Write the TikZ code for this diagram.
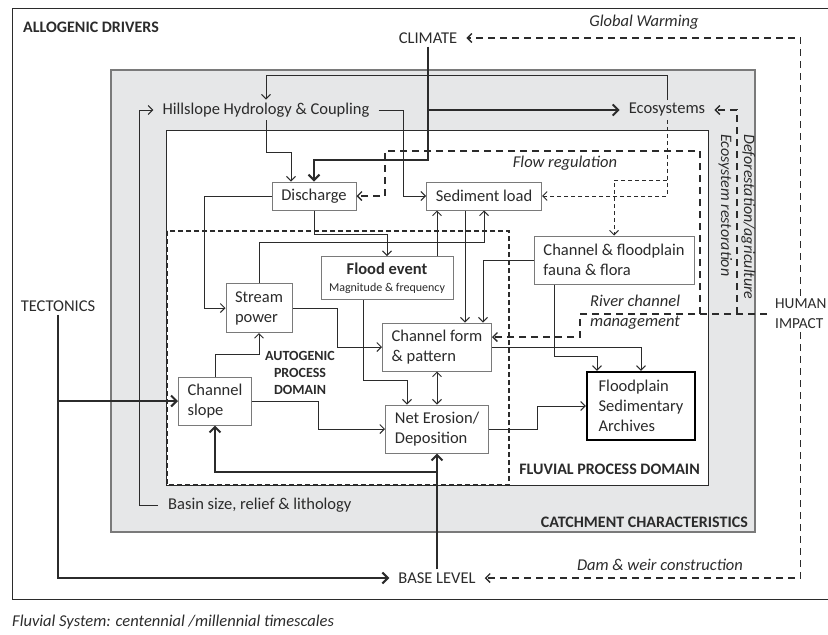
\documentclass[tikz,border=0pt]{standalone}
\usepackage{fontspec}
\setmainfont{Carlito}
\usepackage{tikz}
\usetikzlibrary{arrows.meta}
\usetikzlibrary{positioning}
\usetikzlibrary{calc}

\definecolor{inkgray}{HTML}{2B2B2B}
\definecolor{boxgray}{HTML}{7A7A7A}
\definecolor{panelgray}{HTML}{E6E7E8}

\begin{document}
\begin{tikzpicture}[x=1pt,y=-1pt,>={Straight Barb[length=4.5pt,width=9pt]},
  every node/.style={text=inkgray,font=\fontsize{16.5}{20}\selectfont},
  box node/.style={draw=boxgray,line width=1pt,fill=white,align=left,inner sep=0pt},
  plain node/.style={inner xsep=9pt,inner ysep=3pt},
  title node/.style={inner sep=0pt,font=\fontsize{16}{19}\selectfont\bfseries},
  note node/.style={font=\fontsize{16.5}{20}\selectfont\itshape},
  flow line/.style={draw=inkgray,line width=1pt},
  driver line/.style={draw=inkgray,line width=2pt,>={Straight Barb[length=5.5pt,width=11pt]}},
  human line/.style={draw=inkgray,line width=1.4pt,dash pattern=on 7pt off 5pt,>={Straight Barb[length=4.5pt,width=9pt]}},
  eco line/.style={draw=inkgray,line width=0.9pt,dash pattern=on 4pt off 3pt}]

  \useasboundingbox (0,0) rectangle (828,635);

  % domains
  \draw[inkgray,line width=1pt] (12,8) rectangle (845,599);
  \draw[boxgray,fill=panelgray,line width=1.2pt] (111,70) rectangle (755,532);
  \draw[inkgray,fill=white,line width=1pt] (166,130) rectangle (708,485);
  \draw[inkgray,line width=1.2pt,dash pattern=on 5pt off 3pt] (167,231) rectangle (509,485);

  \node[title node,anchor=west] (allo) at (23,27) {ALLOGENIC DRIVERS};
  \node[title node,anchor=east] (catch) at (748,522) {CATCHMENT CHARACTERISTICS};
  \node[title node,anchor=east] (fluv) at (700,469) {FLUVIAL PROCESS DOMAIN};
  \node[title node,align=center,font=\fontsize{14}{17}\selectfont\bfseries] (auto) at (300,373) {AUTOGENIC\\PROCESS\\DOMAIN};

  % drivers
  \node[plain node] (cli) at (428,38) {CLIMATE};
  \node[plain node] (tect) at (58,306) {TECTONICS};
  \node[plain node] (base) at (437,578) {BASE LEVEL};
  \node[plain node,anchor=west,align=left,inner xsep=8pt,font=\fontsize{15.3}{20}\selectfont] (hum) at (767,314) {HUMAN\\IMPACT};

  % catchment
  \node[plain node] (hill) at (266,110) {Hillslope Hydrology \& Coupling};
  \node[plain node] (eco) at (667,110) {Ecosystems};
  \node[plain node,anchor=west,inner xsep=10pt] (basin) at (158,505) {Basin size, relief \& lithology};

  % fluvial processes
  \node[box node,minimum width=84pt,minimum height=28pt] (dis) at (314,196) {Discharge};
  \node[box node,minimum width=115pt,minimum height=28pt] (sed) at (484,196) {Sediment load};
  \node[box node,minimum width=132pt,minimum height=43pt,align=center] (flood) at (387,278)
    {\textbf{Flood event}\\[-3pt]{\fontsize{12}{14}\selectfont Magnitude \& frequency}};
  \node[box node,minimum width=66pt,minimum height=49pt] (sp) at (259,308) {Stream\\power};
  \node[box node,minimum width=73pt,minimum height=48pt] (cs) at (215,401) {Channel\\slope};
  \node[box node,minimum width=109pt,minimum height=48pt] (cf) at (437,347) {Channel form\\\& pattern};
  \node[box node,minimum width=103pt,minimum height=48pt] (ne) at (437,429) {Net Erosion/\\Deposition};
  \node[box node,minimum width=160pt,minimum height=48pt] (cff) at (614,260) {Channel \& floodplain\\fauna \& flora};
  \node[box node,draw=black,line width=2.2pt,minimum width=108pt,minimum height=68pt] (fsa) at (641,406)
    {Floodplain\\Sedimentary\\Archives};

  % human impact notes
  \node[note node] (gw) at (644,22) {Global Warming};
  \node[note node] (flowreg) at (565,163) {Flow regulation};
  \node[note node,anchor=west,align=left,inner sep=0pt] (rcm) at (590,312) {River channel\\management};
  \node[note node,anchor=west,align=left,inner sep=0pt,rotate=-90,
    font=\fontsize{16}{23}\selectfont\itshape] (defo) at (737,134) {Deforestation/agriculture\\Ecosystem restoration};
  \node[note node] (dam) at (660,565) {Dam \& weir construction};
  \node[note node,anchor=west,inner sep=0pt] (caption) at (12,622) {Fluvial System: centennial /millennial timescales};

  % allogenic links
  \draw[driver line,->] (cli.south) -- (cli.south |- 0,160) -| (dis.north);
  \draw[driver line,->] (cli.south |- eco.west) -- (eco.west);
  \draw[driver line,->] (tect.south) |- (base.west);
  \draw[driver line,->] (tect.south |- cs.west) -- (cs.west);
  \draw[driver line,->] (base.north) -- (ne.south);
  \draw[driver line,->] (base.north |- 0,472) -| (cs.south);

  % catchment links
  \draw[flow line,->] (basin.west) -| (139,110) -- (hill.west);
  \draw[flow line,->] (eco.north) |- (266,75) -- (hill.north);
  \draw[flow line,->] (hill.east) -| (403,196) -- (sed.west);
  \draw[flow line,->] (hill.south) |- (291,152) -- (dis.north -| 291,0);
  \draw[eco line,->] (eco.south) |- (sed.east);
  \draw[eco line,->] (eco.south |- 0,180) -| (cff.north);

  % process links
  \draw[flow line,->] (dis.west) -| (204,308) -- (sp.west);
  \draw[flow line,->] (dis.south) |- (387,234) -- (flood.north);
  \draw[flow line,->] (sp.north) |- (484,242) -- (sed.south);
  \draw[flow line,->] (flood.north -| cf.north) -- (sed.south -| cf.north);
  \draw[flow line,->] ($(sed.south)+(-19,0)$) -- ($(cf.north)+(28,0)$);
  \draw[flow line,->] (cff.west) -| ($(cf.north)+(46,0)$);
  \draw[flow line,->] ($(flood.south)+(-24,0)$) |- (407,380) -- ($(ne.north)+(-30,0)$);
  \draw[flow line,->] (sp.east) -| (337,347) -- (cf.west);
  \draw[flow line,->] (cs.north) |- (259,354) -- (sp.south);
  \draw[flow line,->] (cs.east) -| (318,429) -- (ne.west);
  \draw[flow line,<->] (cf.south) -- (ne.north);
  \draw[flow line,->] (cf.east) -| (fsa.north);
  \draw[flow line,->] ($(cff.south)+(-60,0)$) |- (597,356) -- ($(fsa.north)+(-44,0)$);
  \draw[flow line,->] (ne.east) -| (537,406) -- (fsa.west);

  % human impact links
  \draw[human line,->] (hum.north) |- (cli.east);
  \draw[human line,->] (hum.south) |- (base.east);
  \draw[human line,->] (hum.west) -| (580,337) -- (cf.east |- 0,337);
  \draw[human line,->] (hum.west -| 700,0) |- (385,151) |- (dis.east);
  \draw[human line,->] (hum.west -| 737,0) |- (eco.east);
\end{tikzpicture}
\end{document}
